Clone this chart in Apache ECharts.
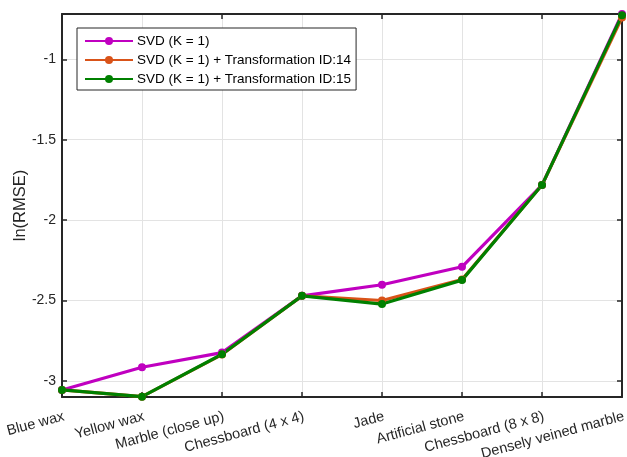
<!DOCTYPE html>
<html>
<head>
<meta charset="utf-8">
<script src="https://cdn.jsdelivr.net/npm/echarts@6/dist/echarts.min.js"></script>
<style>html,body{margin:0;padding:0;background:#fff}#c{width:627px;height:457px}</style>
</head>
<body>
<div id="c"></div>
<script>
const categories = ['Blue wax','Yellow wax','Marble (close up)','Chessboard (4 x 4)','Jade','Artificial stone','Chessboard (8 x 8)','Densely veined marble'];
const svd = [-3.056, -2.915, -2.824, -2.471, -2.402, -2.290, -1.782, -0.718];
const svdT14 = [-3.056, -3.098, -2.836, -2.471, -2.500, -2.370, -1.782, -0.740];
const svdT15 = [-3.056, -3.098, -2.834, -2.471, -2.522, -2.373, -1.782, -0.725];
const seriesNames = ['SVD (K = 1)','SVD (K = 1) + Transformation ID:14','SVD (K = 1) + Transformation ID:15'];
const colors = ['#C000C0','#D95319','#008000'];
const yMin = -3.1, yMax = -0.718;

const font = 'Liberation Sans, Arial, Helvetica, sans-serif';
const axisColor = '#262626';
const gridColor = '#e3e3e3';

const chart = echarts.init(document.getElementById('c'));
const mkSeries = (name, data, color) => ({
  name, type: 'line', data, xAxisIndex: 0, yAxisIndex: 0,
  symbol: 'circle', symbolSize: 8,
  lineStyle: {width: 3.2, color}, itemStyle: {color},
  z: 3
});
chart.setOption({
  animation: false,
  backgroundColor: '#fff',
  textStyle: {fontFamily: font},
  grid: {left: 62, right: 5, top: 14, bottom: 60, containLabel: false, outerBoundsMode: 'none'},
  legend: {
    orient: 'vertical', left: 77, top: 28,
    data: seriesNames,
    backgroundColor: '#fff', borderColor: '#262626', borderWidth: 1, borderRadius: 0,
    padding: [6, 5, 4, 7], itemGap: 5, itemWidth: 48, itemHeight: 10,
    textStyle: {fontSize: 13.5, color: '#000', fontFamily: font, padding: [0,0,0,-1]}
  },
  xAxis: [{
    type: 'category', data: categories, boundaryGap: false, position: 'bottom',
    axisLine: {lineStyle: {color: axisColor, width: 2}},
    axisTick: {inside: true, length: 5, lineStyle: {color: axisColor, width: 1.5}},
    axisLabel: {rotate: 15, fontSize: 14.5, color: axisColor, margin: 12, verticalAlign: 'top', fontFamily: font, hideOverlap: false},
    splitLine: {show: true, lineStyle: {color: gridColor, width: 1}}
  }, {
    type: 'category', data: categories, boundaryGap: false, position: 'top',
    axisLine: {lineStyle: {color: axisColor, width: 2}},
    axisTick: {inside: true, length: 5, lineStyle: {color: axisColor, width: 1.5}},
    axisLabel: {show: false}, splitLine: {show: false}
  }],
  yAxis: [{
    type: 'value', min: yMin, max: yMax, splitNumber: 5, position: 'left',
    name: 'ln(RMSE)', nameLocation: 'middle', nameGap: 33, nameMoveOverlap: false,
    nameTextStyle: {fontSize: 16.5, color: axisColor, fontFamily: font},
    axisLine: {show: true, lineStyle: {color: axisColor, width: 2}},
    axisTick: {show: true, inside: true, length: 5, lineStyle: {color: axisColor, width: 1.5}},
    axisLabel: {fontSize: 14, color: axisColor, margin: 6, showMinLabel: false, showMaxLabel: false, fontFamily: font},
    splitLine: {show: true, lineStyle: {color: gridColor, width: 1}}
  }, {
    type: 'value', min: yMin, max: yMax, splitNumber: 5, position: 'right',
    axisLine: {show: true, lineStyle: {color: axisColor, width: 2}},
    axisTick: {show: true, inside: true, length: 5, lineStyle: {color: axisColor, width: 1.5}},
    axisLabel: {show: false}, splitLine: {show: false}
  }],
  series: [
    mkSeries(seriesNames[0], svd, colors[0]),
    mkSeries(seriesNames[1], svdT14, colors[1]),
    mkSeries(seriesNames[2], svdT15, colors[2])
  ]
});
</script>
</body>
</html>
